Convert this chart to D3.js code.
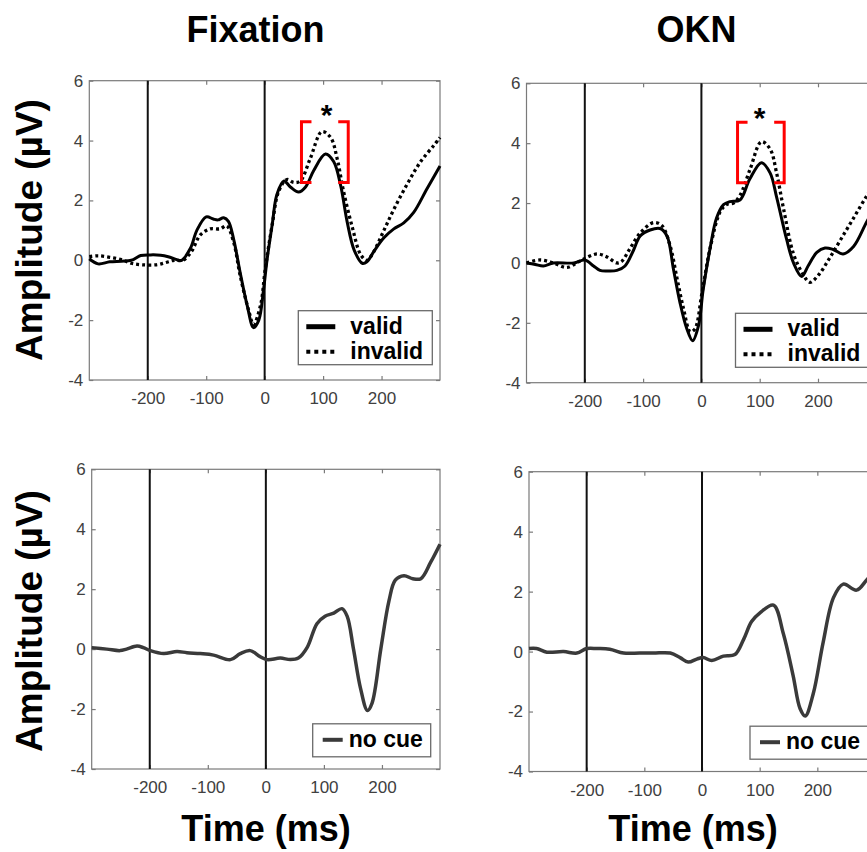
<!DOCTYPE html>
<html>
<head>
<meta charset="utf-8">
<script src="https://cdn.jsdelivr.net/npm/d3@7"></script>
<style>
  html, body { margin: 0; padding: 0; background: #fff; overflow: hidden; }
  svg { display: block; }
</style>
</head>
<body>
<div id="chart"></div>
<script>
// ---- ERP waveforms: [time (ms), amplitude (µV)] ----
const fixationValid = [[-300,0.05],[-285,-0.12],[-265,-0.05],[-245,-0.03],[-228,0.0],[-212,0.16],[-195,0.18],[-178,0.17],[-165,0.12],[-150,0.02],[-142,0.0],[-127,0.4],[-116,1.0],[-100,1.45],[-88,1.38],[-80,1.35],[-70,1.42],[-62,1.3],[-53,0.7],[-42,-0.4],[-30,-1.5],[-19,-2.25],[-10,-2.0],[-2,-1.0],[4,0.0],[13,1.2],[21,2.2],[33,2.65],[44,2.45],[58,2.28],[70,2.45],[84,3.0],[104,3.55],[118,3.3],[130,2.5],[141,1.3],[153,0.35],[167,-0.1],[175,-0.05],[187,0.3],[204,0.75],[221,1.05],[238,1.25],[255,1.6],[278,2.4],[300,3.15]];
const fixationInvalid = [[-300,0.12],[-285,0.15],[-265,0.1],[-245,0.02],[-228,-0.1],[-210,-0.15],[-185,-0.15],[-170,-0.08],[-155,0.0],[-140,0.0],[-125,0.3],[-110,0.85],[-93,1.05],[-76,1.05],[-65,1.15],[-53,0.6],[-42,-0.5],[-27,-1.7],[-19,-2.15],[-7,-1.5],[1,-0.3],[13,1.2],[24,2.3],[38,2.7],[50,2.6],[61,2.65],[78,3.4],[98,4.3],[113,4.1],[124,3.4],[135,2.3],[150,1.1],[164,0.2],[175,0.0],[187,0.3],[204,1.0],[221,1.7],[244,2.55],[267,3.3],[290,3.85],[300,4.1]];
const oknValid = [[-300,0.0],[-285,-0.05],[-271,-0.1],[-254,0.0],[-219,0.0],[-200,0.1],[-185,-0.1],[-174,-0.25],[-160,-0.27],[-145,-0.25],[-131,-0.1],[-117,0.4],[-105,0.9],[-88,1.1],[-71,1.15],[-59,0.9],[-48,-0.2],[-37,-1.3],[-25,-2.2],[-15,-2.6],[-5,-2.1],[3,-0.9],[15,0.5],[26,1.5],[38,1.95],[49,2.05],[66,2.1],[83,2.8],[103,3.35],[118,3.0],[129,2.2],[146,0.8],[158,0.0],[172,-0.45],[183,-0.1],[198,0.35],[212,0.5],[226,0.45],[243,0.3],[261,0.55],[283,1.35],[300,1.95]];
const oknInvalid = [[-300,0.0],[-277,0.1],[-254,0.0],[-231,-0.15],[-214,0.0],[-200,0.15],[-179,0.3],[-162,0.2],[-145,0.0],[-137,0.05],[-122,0.5],[-105,1.0],[-82,1.35],[-68,1.25],[-54,0.6],[-42,-0.5],[-31,-1.5],[-19,-2.3],[-11,-2.2],[1,-1.0],[15,0.5],[32,1.7],[43,1.95],[55,2.0],[66,2.25],[83,3.1],[103,4.05],[118,3.8],[129,3.0],[141,1.8],[158,0.3],[175,-0.4],[186,-0.65],[201,-0.4],[218,0.1],[238,0.75],[261,1.5],[284,2.25],[300,2.7]];
const fixationNoCue = [[-300,0.05],[-274,0.0],[-251,-0.05],[-240,0.0],[-222,0.1],[-211,0.05],[-199,-0.05],[-176,-0.15],[-153,-0.08],[-136,-0.12],[-113,-0.15],[-90,-0.2],[-61,-0.35],[-44,-0.15],[-27,-0.05],[-10,-0.25],[2,-0.35],[25,-0.3],[42,-0.35],[56,-0.3],[71,0.05],[88,0.85],[102,1.1],[117,1.2],[131,1.35],[140,1.1],[151,0.0],[163,-1.3],[175,-2.05],[183,-1.8],[198,0.0],[212,1.6],[223,2.3],[238,2.45],[253,2.35],[267,2.35],[284,2.9],[300,3.5]];
const oknNoCue = [[-300,0.1],[-287,0.1],[-269,-0.02],[-240,0.0],[-217,-0.05],[-200,0.1],[-182,0.1],[-160,0.08],[-136,-0.05],[-108,-0.05],[-84,-0.05],[-55,-0.05],[-38,-0.2],[-24,-0.35],[-9,-0.25],[2,-0.2],[17,-0.3],[37,-0.15],[57,-0.1],[72,0.4],[86,1.0],[101,1.3],[124,1.55],[141,0.6],[158,-0.8],[170,-1.9],[179,-2.15],[193,-1.4],[210,0.3],[228,1.8],[245,2.25],[268,2.05],[286,2.4],[300,2.7]];

// ---- axes ----
const xDomain = [-300, 300];
const yDomain = [-4, 6];
const xTicks = [-200, -100, 0, 100, 200];
const yTicks = [-4, -2, 0, 2, 4, 6];
const eventMarkers = [-200, 0];          // cue and target onsets (ms)

// ---- significance window: [t0, t1, µV low, µV high], star position [t, µV] ----
const fixationWindow = [63, 143, 2.6, 4.63];
const oknWindow = [62, 142, 2.68, 4.7];
const fixationStar = [106, 5.08];
const oknStar = [100, 5.06];

const columnTitles = ["Fixation", "OKN"];
const legendTop = ["valid", "invalid"];
const legendBottom = ["no cue"];

const W = 867, H = 852;
const svg = d3.select("#chart").append("svg")
  .attr("width", W).attr("height", H)
  .style("font-family", "'Liberation Sans', Arial, sans-serif");

const line = (x, y) => d3.line()
  .x(d => x(d[0])).y(d => y(d[1]))
  .curve(d3.curveCatmullRom.alpha(0.5));

// plain hyphen-minus tick labels
const plain = d => String(d);

function panel(box, series, opts) {
  const x = d3.scaleLinear().domain(xDomain).range([box.l, box.r]);
  const y = d3.scaleLinear().domain(yDomain).range([box.b, box.t]);
  const g = svg.append("g");

  // frame
  g.append("rect").attr("x", box.l).attr("y", box.t)
    .attr("width", box.r - box.l).attr("height", box.b - box.t)
    .attr("fill", "none").attr("stroke", "#7a7a7a").attr("stroke-width", 1.2);

  // bottom + left axes (labels, inward ticks)
  const xa = g.append("g").attr("transform", `translate(0,${box.b})`)
    .call(d3.axisBottom(x).tickValues(xTicks).tickFormat(plain)
      .tickSizeInner(-4).tickSizeOuter(0).tickPadding(12));
  const ya = g.append("g").attr("transform", `translate(${box.l},0)`)
    .call(d3.axisLeft(y).tickValues(yTicks).tickFormat(plain)
      .tickSizeInner(-4).tickSizeOuter(0).tickPadding(6));
  // top + right mirror ticks
  const xt = g.append("g").attr("transform", `translate(0,${box.t})`)
    .call(d3.axisTop(x).tickValues(xTicks).tickSizeInner(-4).tickSizeOuter(0).tickFormat(""));
  const yr = g.append("g").attr("transform", `translate(${box.r},0)`)
    .call(d3.axisRight(y).tickValues(yTicks).tickSizeInner(-4).tickSizeOuter(0).tickFormat(""));
  [xa, ya, xt, yr].forEach(a => {
    a.select(".domain").remove();
    a.selectAll("line").attr("stroke", "#7a7a7a").attr("stroke-width", 1.2);
    a.selectAll("text").attr("fill", "#404040").style("font-size", "17px")
      .style("font-family", "'Liberation Sans', Arial, sans-serif");
  });
  xa.selectAll("text").attr("dy", "0.71em");

  // onset markers
  g.selectAll(".ev").data(eventMarkers).join("line")
    .attr("x1", d => x(d)).attr("x2", d => x(d))
    .attr("y1", box.t).attr("y2", box.b)
    .attr("stroke", "#111").attr("stroke-width", 2);

  // waveforms
  series.forEach(s => {
    g.append("path").datum(s.data)
      .attr("d", line(x, y))
      .attr("fill", "none")
      .attr("stroke", s.color)
      .attr("stroke-width", s.width)
      .attr("stroke-dasharray", s.dash || null)
      .attr("stroke-linejoin", "round");
  });

  // significance bracket
  if (opts.window) {
    const [t0, t1, lo, hi] = opts.window;
    const arm = 10;
    const bracket = (xv, dir) => {
      const px = x(xv);
      return `M${px + dir * arm},${y(hi)}H${px}V${y(lo)}H${px + dir * arm}`;
    };
    [[t0, 1], [t1, -1]].forEach(([t, dir]) => {
      g.append("path").attr("d", bracket(t, dir))
        .attr("fill", "none").attr("stroke", "#ff0000").attr("stroke-width", 3);
    });
    g.append("text").attr("x", x(opts.star[0])).attr("y", y(opts.star[1]) + 17)
      .attr("text-anchor", "middle").attr("font-weight", "bold")
      .attr("font-size", 30).attr("fill", "#000").text("*");
  }

  // legend
  const lg = opts.legend;
  const lx = box.l + lg.dx, ly = box.t + lg.dy;
  g.append("rect").attr("x", lx).attr("y", ly).attr("width", lg.w).attr("height", lg.h)
    .attr("fill", "#fff").attr("stroke", "#6a6a6a").attr("stroke-width", 1.3);
  lg.items.forEach((it, i) => {
    const ry = ly + lg.row0 + i * lg.rowStep;
    g.append("line")
      .attr("x1", lx + lg.s0).attr("x2", lx + lg.s1)
      .attr("y1", ry).attr("y2", ry)
      .attr("stroke", it.color).attr("stroke-width", it.width)
      .attr("stroke-dasharray", it.dash || null);
    g.append("text").attr("x", lx + lg.tx).attr("y", ry + 7)
      .attr("font-weight", "bold").attr("font-size", 23).attr("fill", "#000")
      .text(it.label);
  });
  return x;
}

const topLegend = () => ({
  dx: 209, dy: 230, w: 134, h: 54, row0: 16, rowStep: 25, s0: 8, s1: 37, tx: 52,
  items: [
    { label: legendTop[0], color: "#000", width: 5 },
    { label: legendTop[1], color: "#000", width: 4, dash: "4 4" }
  ]
});
const bottomLegend = {
  dx: 221, dy: 254.5, w: 118, h: 33, row0: 16, rowStep: 0, s0: 10, s1: 30, tx: 36,
  items: [{ label: legendBottom[0], color: "#3a3a3a", width: 4 }]
};

const boxes = {
  tl: { l: 89.3, r: 440, t: 80.7, b: 380 },
  tr: { l: 526.5, r: 876.3, t: 83.3, b: 382.7 },
  bl: { l: 91.7, r: 440, t: 469.3, b: 769 },
  br: { l: 529, r: 875, t: 471.7, b: 771.5 }
};

const validStyle = { color: "#000", width: 3 };
const invalidStyle = { color: "#000", width: 3.3, dash: "3 3" };
const noCueStyle = { color: "#3a3a3a", width: 3.5 };

panel(boxes.tl,
  [{ data: fixationInvalid, ...invalidStyle }, { data: fixationValid, ...validStyle }],
  { window: fixationWindow, star: fixationStar, legend: topLegend() });
panel(boxes.tr,
  [{ data: oknInvalid, ...invalidStyle }, { data: oknValid, ...validStyle }],
  { window: oknWindow, star: oknStar, legend: topLegend() });
panel(boxes.bl, [{ data: fixationNoCue, ...noCueStyle }], { legend: bottomLegend });
panel(boxes.br, [{ data: oknNoCue, ...noCueStyle }], { legend: bottomLegend });

// column titles
svg.append("text").attr("x", 255.5).attr("y", 41.5).attr("text-anchor", "middle")
  .attr("font-weight", "bold").attr("font-size", 36).text(columnTitles[0]);
svg.append("text").attr("x", 696.5).attr("y", 42).attr("text-anchor", "middle")
  .attr("font-weight", "bold").attr("font-size", 36).text(columnTitles[1]);

// y-axis titles
[230, 621].forEach(cy => {
  svg.append("text").attr("transform", `translate(42,${cy}) rotate(-90)`)
    .attr("text-anchor", "middle").attr("font-weight", "bold").attr("font-size", 37)
    .text("Amplitude (µV)");
});

// x-axis titles
[266, 693].forEach(cx => {
  svg.append("text").attr("x", cx).attr("y", 841).attr("text-anchor", "middle")
    .attr("font-weight", "bold").attr("font-size", 36).text("Time (ms)");
});
</script>
</body>
</html>
